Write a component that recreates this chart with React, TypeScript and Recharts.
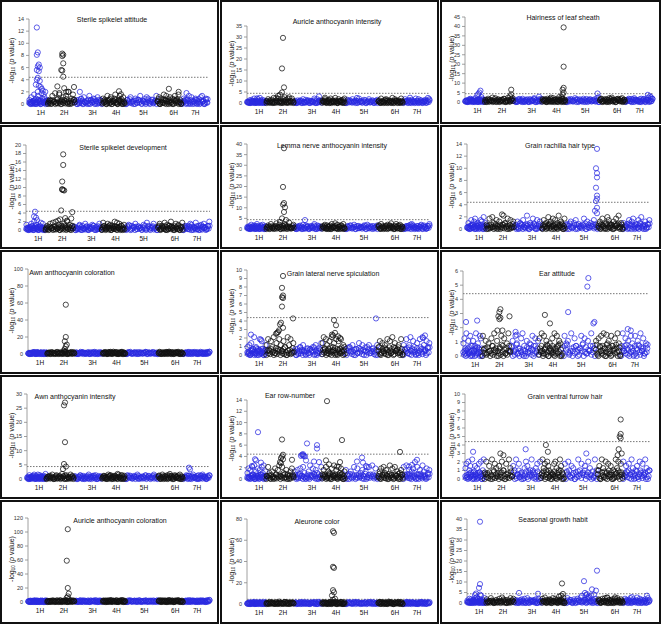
import { ScatterChart, Scatter, XAxis, YAxis, ReferenceLine } from "recharts";

// 15 Manhattan plots, 5 rows x 3 columns
const titles = [
  "Sterile spikelet attitude",
  "Auricle anthocyanin intensity",
  "Hairiness of leaf sheath",
  "Sterile spikelet development",
  "Lemma nerve anthocyanin intensity",
  "Grain rachilla hair type",
  "Awn anthocyanin coloration",
  "Grain lateral nerve spiculation",
  "Ear attitude",
  "Awn anthocyanin intensity",
  "Ear row-number",
  "Grain ventral furrow hair",
  "Auricle anthocyanin coloration",
  "Aleurone color",
  "Seasonal growth habit",
];

const yMax = [14, 35, 45, 20, 40, 14, 100, 10, 6, 30, 14, 10, 120, 80, 40];
const yStep = [2, 5, 5, 2, 5, 2, 20, 1, 1, 5, 2, 1, 20, 20, 5];
const threshold = 4.4;

const chromLabels = ["1H", "2H", "3H", "4H", "5H", "6H", "7H"];
const chromStart = [0, 19, 47, 75, 98, 131, 156, 183];
const labelPos = [12, 36, 65, 89, 117, 148, 170];

// height of the dense floor band and of the looser background scatter (digit 9)
const floorTop = [0.8, 1.2, 1.6, 1.0, 1.6, 0.9, 2.5, 0.9, 0.8, 1.2, 0.9, 1.0, 2.5, 1.8, 1.4];
const bgTop = [2.0, 2.6, 2.6, 2.2, 3.0, 2.2, 3.0, 2.1, 1.6, 2.0, 2.4, 2.3, 3.0, 2.5, 2.6];

// dense low band seen under every panel, one digit per marker, one group per chromosome
const floor =
  "314205162730418253061472350316 052617340281536042719305261483 470315926043158207364915028361 163840257193046528310647293051 208593146072835164903725481360 591037428160395274018562930471 036482915073641820593174602839";

// looser background markers per panel
const background = [
  "30512704163208415923 13062814703526190473 20314051206314025130 41206315024710362051 03152041360215403126 25041736205140632710 14203615024310562041",
  "21405317203618405213 36150824713062519370 10423061524031706243 42613507241830624157 05136240731502614035 31720564130826403172 26304152073614025386",
  "13025614207315042631 40613827051436028147 21053160420513704216 52406138270415930624 03142750316024513270 46215037281405632714 13620574130625048316",
  "52031640825130472610 14062738150426391504 30215041630215403162 07413625041837260415 21504361320517403620 36142705148320615037 04213650271405362148",
  "31406215307420516304 25071438260517349216 10342061530241705312 42615030724816305271 03152604132506140235 51730246158320714603 20413675021436052147",
  "14026315702431650824 30718426051394270615 21504361320417306251 06241835270614925307 32051460213705142631 15372048613052739140 41206357031648205136",
  "20413572061435020614 35061427053186024713 12043651230416052134 41620735184260317052 03512640152370416230 26140375820614372051 14305261730425103628",
  "41506239140328173025 58274916385274095816 20314252031324051236 69385172946083718254 31425031635024513205 47162538071946235180 53815927406183952746",
  "57392618406249153870 83615274926038471592 46285137902615384726 72918364052739184650 38561927403857162943 61748293056184273950 49273618508364927153",
  "30614257203716402518 14527036152840631740 42036150417305260314 25130746205138720615 06241537024163502741 51370426185036241703 23605147230615742036",
  "47162839052716384925 28405173692841630572 51637284015927364018 36281540739261847305 62053817246051839271 15738462093718250463 83926157408362951746",
  "57184629306251738049 38260947516384072951 64927130586249315708 29574861302785149630 73816502947362850194 46095183726041958372 81637295046183729504",
  "31624057130426150372 50417326081536042714 24160375120634172053 62037148253170462815 10524631704253160427 43716205813602475130 25031746203514620739",
  "13604257021536401725 40726315084217360542 25130647213054160723 61452037164805327016 04231756203142670514 37560412836105247360 20714365120437516243",
  "42716053824716305182 61384025173962051847 15302647081534260713 73915264083725146390 38250617492516830471 64172839050627184362 27503816249370516283",
];

// notable markers [position, -log10 p]
const peaks: number[][][] = [
  [[8, 12.6], [9, 8.5], [8, 8.1], [10, 6.5], [9, 6.2], [11, 6.0], [8, 5.6], [10, 5.4], [9, 4.3], [8, 4.0], [11, 3.8], [7, 3.2], [10, 3.0], [12, 2.8], [13, 2.5], [14, 2.2], [9, 2.0], [15, 1.6],
   [34, 8.3], [35, 8.1], [34, 7.9], [35, 6.7], [33, 5.6], [34, 5.5], [35, 4.5], [29, 2.9], [36, 2.6], [38, 2.0], [31, 1.8], [46, 2.8], [40, 2.0],
   [52, 2.0], [92, 2.1], [94, 1.6], [143, 2.5], [153, 2.0], [161, 1.8]],
  [[36, 29.6], [35, 15.7], [37, 7.1], [35, 4.8], [33, 3.8], [31, 3.2], [38, 2.6], [29, 2.2], [41, 2.0], [72, 3.0], [78, 2.4], [110, 2.3], [163, 2.4], [10, 2.1]],
  [[96, 39.5], [96, 18.7], [96, 7.5], [95, 6.5], [96, 5.0], [95, 4.0], [94, 2.5], [45, 6.5], [45, 4.0], [44, 3.0],
   [15, 6.0], [14, 5.0], [13, 4.3], [12, 3.6], [16, 2.6], [72, 2.8], [129, 4.5], [130, 2.5], [178, 3.8], [180, 3.0], [181, 2.5]],
  [[37, 17.8], [37, 15.3], [36, 11.4], [36, 9.6], [37, 9.4], [36, 9.5], [38, 9.3], [35, 4.6], [34, 2.5], [39, 2.8], [41, 2.0], [32, 2.2], [46, 4.2], [45, 2.7],
   [9, 4.3], [8, 3.2], [10, 2.9], [11, 2.3]],
  [[37, 38], [36, 19.8], [37, 12.2], [36, 11.5], [38, 10.2], [37, 8.0], [35, 5.0], [39, 4.2], [33, 3.3], [58, 4.2]],
  [[130, 13.2], [129, 10.0], [130, 9.2], [130, 8.5], [129, 6.8], [130, 5.5], [130, 5.0], [129, 4.6], [130, 3.5], [128, 3.0], [130, 2.6], [35, 2.4], [60, 2.2]],
  [[38, 58], [38, 20], [37, 15], [39, 11], [38, 9], [37, 6], [36, 4]],
  [[36, 9.3], [35, 7.9], [36, 7.0], [35, 6.8], [36, 6.7], [35, 5.7], [34, 3.8], [33, 3.6], [36, 3.2], [32, 2.9], [31, 2.7], [30, 2.6], [29, 2.5], [46, 4.3],
   [87, 4.1], [89, 3.5], [88, 2.6], [86, 2.3], [91, 2.2], [93, 2.0], [85, 2.4], [129, 4.3], [4, 2.4], [14, 1.8], [178, 2.3], [176, 2.0]],
  [[124, 5.5], [123, 4.9], [37, 3.3], [36, 3.1], [35, 2.8], [37, 2.7], [36, 2.6], [34, 1.8], [39, 1.8], [46, 2.8], [3, 2.4], [14, 2.5],
   [81, 2.9], [86, 2.3], [104, 3.1], [129, 2.3], [130, 2.4], [142, 1.5], [163, 1.9], [166, 1.8], [52, 1.7], [53, 1.5]],
  [[38, 27], [37, 26], [38, 13], [37, 5.3], [39, 4.4], [36, 3.5], [162, 4.0], [163, 3.4]],
  [[11, 8.3], [8, 3.5], [9, 3.3], [14, 2.9], [5, 2.3], [35, 7.0], [36, 4.3], [35, 4.0], [34, 3.7], [36, 3.5], [33, 3.0], [34, 2.8], [45, 3.4],
   [55, 4.3], [56, 4.2], [57, 4.1], [58, 4.0], [54, 4.1], [56, 4.4], [60, 6.3], [59, 3.3], [70, 6.0], [70, 5.4], [67, 3.1], [72, 3.0],
   [80, 13.8], [79, 3.3], [82, 2.6], [93, 3.0], [90, 2.2], [95, 6.9], [115, 3.8], [116, 2.9], [110, 3.1], [119, 2.3], [120, 2.1],
   [153, 4.8], [170, 3.4], [168, 3.0], [165, 2.5], [162, 2.2]],
  [[154, 7.0], [154, 5.3], [153, 5.0], [154, 4.8], [152, 3.5], [155, 3.0], [151, 2.8], [80, 4.0], [82, 3.2], [60, 3.5], [35, 3.0], [38, 2.8], [8, 3.2], [120, 3.0]],
  [[40, 104], [39, 59], [40, 20], [41, 12], [40, 8], [39, 6], [41, 4]],
  [[86, 68.5], [87, 67], [86, 35], [87, 34], [86, 13], [87, 11], [85, 8], [88, 5], [86, 4]],
  [[13, 38.7], [13, 9.0], [12, 7.2], [13, 4.0], [14, 3.5], [9, 4.5], [8, 3.8], [10, 2.8], [52, 4.8], [71, 4.4],
   [95, 9.3], [96, 4.3], [94, 3.5], [92, 3.0], [117, 10.4], [118, 4.8], [120, 4.2], [125, 6.5], [129, 5.9], [130, 15.4],
   [115, 3.5], [119, 3.8], [122, 3.0], [124, 3.6], [127, 4.0], [121, 2.6], [140, 2.5], [148, 2.7], [165, 2.8], [180, 3.5]],
];

// panel geometry (px, relative to the panel's outer box)
const layout = [
  { ax: 29, top: 19, bottom: 104, right: 208, tx: 112, ty: 19 },
  { ax: 27, top: 26, bottom: 103, right: 210, tx: 117, ty: 21 },
  { ax: 25, top: 17, bottom: 102, right: 213, tx: 123, ty: 17 },
  { ax: 26, top: 20, bottom: 105, right: 210, tx: 123, ty: 22 },
  { ax: 27, top: 19, bottom: 104, right: 210, tx: 112, ty: 20 },
  { ax: 27, top: 19, bottom: 104, right: 210, tx: 120, ty: 20 },
  { ax: 28, top: 19, bottom: 104, right: 210, tx: 72, ty: 22 },
  { ax: 27, top: 20, bottom: 105, right: 210, tx: 113, ty: 23 },
  { ax: 23, top: 21, bottom: 106, right: 208, tx: 117, ty: 23 },
  { ax: 27, top: 19, bottom: 104, right: 210, tx: 75, ty: 21 },
  { ax: 27, top: 25, bottom: 104, right: 210, tx: 70, ty: 20 },
  { ax: 25, top: 19, bottom: 104, right: 210, tx: 125, ty: 21 },
  { ax: 28, top: 18, bottom: 102, right: 210, tx: 120, ty: 20 },
  { ax: 27, top: 19, bottom: 104, right: 210, tx: 97, ty: 21 },
  { ax: 27, top: 19, bottom: 103, right: 210, tx: 113, ty: 19 },
];

const FONT = '"Liberation Sans", Arial, sans-serif';
const BLUE = "#2a2ae0";
const BLACK = "#111";

const chromOf = (x: number) => {
  for (let c = 0; c < 7; c++) if (x >= chromStart[c] && x < chromStart[c + 1]) return c;
  return 6;
};

type Pt = { x: number; y: number };

function spread(str: string, top: number, blue: Pt[], black: Pt[]) {
  str.split(" ").forEach((s, c) => {
    const a = chromStart[c];
    const b = chromStart[c + 1];
    for (let k = 0; k < s.length; k++) {
      const pt = { x: a + ((k + 0.5) * (b - a)) / s.length, y: (Number(s[k]) / 9) * top };
      (c % 2 === 0 ? blue : black).push(pt);
    }
  });
}

function buildPoints(i: number) {
  const blue: Pt[] = [];
  const black: Pt[] = [];
  spread(floor, floorTop[i], blue, black);
  spread(background[i], bgTop[i], blue, black);
  peaks[i].forEach(([x, y]) => {
    (chromOf(x) % 2 === 0 ? blue : black).push({ x, y });
  });
  return { blue, black };
}

const ring = (color: string) => (p: any) => (
  <circle cx={p.cx} cy={p.cy} r={2.6} fill="none" stroke={color} strokeWidth={0.75} />
);

function Panel({ i }: { i: number }) {
  const L = layout[i];
  const col = i % 3;
  const row = Math.floor(i / 3);
  const W = col === 2 ? 221 : 219;
  const H = 124;
  const iw = W - 4;
  const ih = H - 4;
  const { blue, black } = buildPoints(i);
  const ticks = Array.from({ length: yMax[i] / yStep[i] + 1 }, (_, k) => k * yStep[i]);
  const ly = (L.top + L.bottom) / 2 - 3;

  return (
    <div
      style={{
        position: "absolute",
        left: col * 220,
        top: row * 125,
        width: W,
        height: H,
        border: "2px solid #111",
        boxSizing: "border-box",
        background: "#fff",
      }}
    >
      <ScatterChart
        width={iw}
        height={ih}
        margin={{ top: L.top - 2, right: iw - (L.right - 2), bottom: 0, left: 0 }}
      >
        <XAxis
          type="number"
          dataKey="x"
          domain={[0, 183]}
          ticks={labelPos}
          interval={0}
          tickFormatter={(v: number) => chromLabels[labelPos.indexOf(v)]}
          axisLine={false}
          tickLine={false}
          tickSize={0}
          tickMargin={6}
          height={ih - (L.bottom - 2)}
          tick={{ fontSize: 6.5, fill: "#111", fontFamily: FONT }}
        />
        <YAxis
          type="number"
          dataKey="y"
          domain={[0, yMax[i]]}
          ticks={ticks}
          interval={0}
          width={L.ax - 2}
          axisLine={{ stroke: "#888", strokeWidth: 0.8 }}
          tickLine={{ stroke: "#888", strokeWidth: 0.8 }}
          tickSize={3}
          tickMargin={2}
          tick={{ fontSize: 5.5, fill: "#333", fontFamily: FONT }}
        />
        <ReferenceLine y={threshold} stroke="#555" strokeDasharray="1.5 1.5" strokeWidth={0.8} />
        <Scatter data={blue} isAnimationActive={false} shape={ring(BLUE)} />
        <Scatter data={black} isAnimationActive={false} shape={ring(BLACK)} />
      </ScatterChart>
      <svg
        width={iw}
        height={ih}
        style={{ position: "absolute", left: 0, top: 0, pointerEvents: "none" }}
        fontFamily={FONT}
      >
        <text x={L.tx - 2} y={L.ty - 2} textAnchor="middle" dominantBaseline="central" fontSize={7} fill="#111">
          {titles[i]}
        </text>
        <text
          transform={`translate(${9},${ly}) rotate(-90)`}
          textAnchor="middle"
          dominantBaseline="central"
          fontSize={7}
          fill="#111"
        >
          -log<tspan fontSize={4.5} dy={1.8}>10</tspan>
          <tspan dy={-1.8}> (</tspan>
          <tspan fontStyle="italic">p</tspan> value)
        </text>
      </svg>
    </div>
  );
}

export default function App() {
  return (
    <div style={{ position: "absolute", left: 0, top: 0, width: 661, height: 625, background: "#fff" }}>
      {titles.map((_, i) => (
        <Panel key={i} i={i} />
      ))}
    </div>
  );
}
